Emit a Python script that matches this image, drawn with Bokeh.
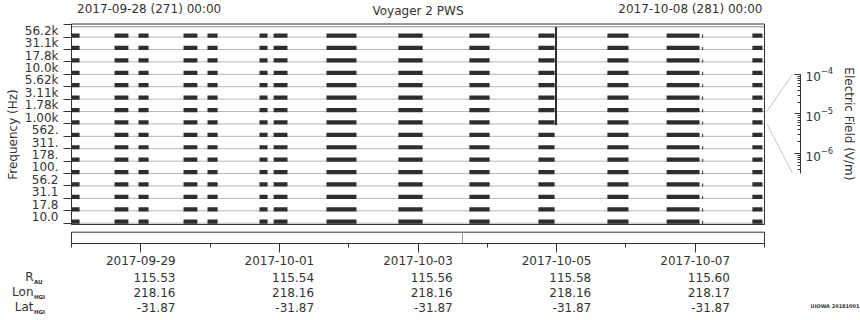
import numpy as np
import pandas as pd
from bokeh.plotting import figure
from bokeh.models import (Range1d, FixedTicker, LogAxis, LogScale, DatetimeTickFormatter,
                          LogTicker)
from bokeh.core.properties import value
from bokeh.embed import file_html
from bokeh.resources import INLINE

# ---------------- data ----------------
t_start = "2017-09-28 00:00"
t_end = "2017-10-08 00:00"
title_left = "2017-09-28 (271) 00:00"
title_right = "2017-10-08 (281) 00:00"
title_center = "Voyager 2 PWS"

channel_labels = ["10.0", "17.8", "31.1", "56.2", "100.", "178.", "311.", "562.",
                  "1.00k", "1.78k", "3.11k", "5.62k", "10.0k", "17.8k", "31.1k", "56.2k"]

# data segments (hours since start), same in every channel
seg_start_h = [0.0, 14.9, 23.2, 38.8, 47.1, 65.1, 70.0, 88.3, 113.2, 137.8, 161.7, 185.6, 206.1, 235.8]
seg_end_h = [2.8, 19.7, 26.7, 43.6, 50.6, 67.9, 74.8, 98.7, 121.6, 144.8, 167.3, 192.9, 217.5, 239.3]
blip_h = [218.4]
spike_h = 167.8
spike_lo_channel = 8
spike_hi_channel = 15
strip_marker_h = 135.4
selected_channel = 8  # 1.00k, linked to the field scale

tick_dates = ["2017-09-29", "2017-10-01", "2017-10-03", "2017-10-05", "2017-10-07"]
minor_dates = ["2017-09-28", "2017-09-30", "2017-10-02", "2017-10-04", "2017-10-06", "2017-10-08"]
r_au = ["115.53", "115.54", "115.56", "115.58", "115.60"]
lon_hgi = ["218.16", "218.16", "218.16", "218.16", "218.17"]
lat_hgi = ["-31.87", "-31.87", "-31.87", "-31.87", "-31.87"]
row_names = ["R", "Lon", "Lat"]
row_subs = ["AU", "HGI", "HGI"]

efield_top = 1e-4
efield_bottom = 10 ** -6.5
efield_top_channel = 12
efield_bottom_channel = 4
efield_label = "Electric Field (V/m)"
credit = "UIOWA 20181001"

# ---------------- layout helpers ----------------
FONT = "DejaVu Sans"
TXT = "#333333"
BAR = "#2e2e2e"
GRID = "#b8b8b8"
W, HGT = 860, 320


def ms(ts):
    return pd.Timestamp(ts).value / 1e6


t0 = ms(t_start)
t1 = ms(t_end)
HOUR = 3600000.0
DAY = 24 * HOUR
PX_DAY = 69.3
X_ORIGIN = 71.0
Y_BASE = 222.7
PX_CH = 12.41


def x_of_px(px):
    return t0 + (px - X_ORIGIN) / PX_DAY * DAY


def y_of_px(py):
    return (Y_BASE - py) / PX_CH


p = figure(width=W, height=HGT, x_axis_type="datetime", output_backend="svg",
           toolbar_location=None, title=None,
           x_range=Range1d(x_of_px(0), x_of_px(W)), y_range=Range1d(y_of_px(HGT), y_of_px(0)),
           min_border=0)
p.outline_line_color = None
p.xgrid.visible = False
p.ygrid.visible = False

nch = len(channel_labels)
frame_top = y_of_px(23.5)
frame_bot = y_of_px(224)

# baselines
p.segment(x0=[t0] * nch, x1=[t1] * nch, y0=list(range(nch)), y1=list(range(nch)),
          line_color=GRID, line_width=1)
# second top line
p.segment(x0=[t0], x1=[t1], y0=[y_of_px(26.3)], y1=[y_of_px(26.3)], line_color="#8a8a8a",
          line_width=1)

# bars
L, R, B, T = [], [], [], []
for i in range(nch):
    for s, e in zip(seg_start_h, seg_end_h):
        L.append(t0 + s * HOUR); R.append(t0 + e * HOUR)
        B.append(i - 0.05); T.append(i + 0.29)
    for b in blip_h:
        L.append(t0 + b * HOUR); R.append(t0 + b * HOUR + 0.35 * HOUR)
        B.append(i - 0.05); T.append(i + 0.2)
p.quad(left=L, right=R, bottom=B, top=T, fill_color=BAR, line_color=None)

# spike
p.segment(x0=[t0 + spike_h * HOUR], x1=[t0 + spike_h * HOUR], y0=[spike_lo_channel - 0.1],
          y1=[spike_hi_channel + 0.8], line_color=BAR, line_width=2)

# main frame
p.quad(left=[t0], right=[t1], bottom=[frame_bot], top=[frame_top], fill_color=None,
       line_color="#333333", line_width=1)

# lower strip
strip_top = y_of_px(231.7)
strip_bot = y_of_px(243)
p.quad(left=[t0], right=[t1], bottom=[strip_bot], top=[strip_top], fill_color=None,
       line_color="#333333", line_width=1)
p.segment(x0=[t0 + strip_marker_h * HOUR], x1=[t0 + strip_marker_h * HOUR],
          y0=[strip_bot], y1=[strip_top], line_color="#999999", line_width=1)

# connectors to field scale
xc0 = x_of_px(766.5)
xc1 = x_of_px(792)
p.segment(x0=[xc0, xc0], x1=[xc1, xc1],
          y0=[selected_channel + 1, selected_channel],
          y1=[efield_top_channel, efield_bottom_channel], line_color="#c8c8c8", line_width=1)

# left axis (channels)
ya = p.yaxis[0]
ya.fixed_location = t0
ya.ticker = FixedTicker(ticks=[i + 0.5 for i in range(nch)], minor_ticks=list(range(nch + 1)))
ya.major_label_overrides = {i + 0.5: lab for i, lab in enumerate(channel_labels)}
ya.major_tick_out = 0
ya.major_tick_in = 0
ya.minor_tick_out = 8
ya.minor_tick_in = 0
ya.minor_tick_line_color = "#333333"
ya.axis_line_color = "#333333"
ya.bounds = (frame_bot, frame_top)
ya.major_label_standoff = 5
ya.major_label_text_font = FONT
ya.major_label_text_font_size = "12px"
ya.major_label_text_color = TXT

# bottom axis (dates)
xa = p.xaxis[0]
xa.fixed_location = strip_bot
xa.ticker = FixedTicker(ticks=[ms(d) for d in tick_dates], minor_ticks=[ms(d) for d in minor_dates])
fmt = DatetimeTickFormatter()
for attr in ["microseconds", "milliseconds", "seconds", "minsec", "minutes", "hourmin",
             "hours", "days", "months", "years"]:
    setattr(fmt, attr, "%Y-%m-%d")
xa.formatter = fmt
xa.bounds = (t0, t1)
xa.major_tick_out = 9
xa.major_tick_in = 0
xa.minor_tick_out = 4
xa.minor_tick_in = 0
xa.axis_line_color = "#333333"
xa.major_tick_line_color = "#333333"
xa.minor_tick_line_color = "#333333"
xa.major_label_standoff = 3
xa.major_label_text_font = FONT
xa.major_label_text_font_size = "12px"
xa.major_label_text_color = TXT

# field scale axis
lo_log, hi_log = np.log10(efield_bottom), np.log10(efield_top)
per_ch = (hi_log - lo_log) / (efield_top_channel - efield_bottom_channel)
r_lo = 10 ** (lo_log - (efield_bottom_channel - y_of_px(HGT)) * per_ch)
r_hi = 10 ** (hi_log + (y_of_px(0) - efield_top_channel) * per_ch)
p.extra_y_ranges = {"ef": Range1d(r_lo, r_hi)}
p.extra_y_scales = {"ef": LogScale()}
ea = LogAxis(y_range_name="ef", ticker=LogTicker(num_minor_ticks=10),
             fixed_location=x_of_px(800))
ea.bounds = (efield_bottom, efield_top)
ea.major_tick_in = 6
ea.major_tick_out = 0
ea.minor_tick_in = 3
ea.minor_tick_out = 0
ea.axis_line_color = "#333333"
ea.major_tick_line_color = "#333333"
ea.minor_tick_line_color = "#333333"
ea.major_label_standoff = 5
ea.major_label_text_font = FONT
ea.major_label_text_font_size = "12px"
ea.major_label_text_color = TXT
p.add_layout(ea, "right")

common = dict(text_font=value(FONT), text_color=TXT, text_baseline=value("middle"))

# axis titles
p.text(x=[x_of_px(12)], y=[y_of_px(134)], text=["Frequency (Hz)"], angle=np.pi / 2,
       text_align=value("center"), text_font_size=value("12px"), **common)
p.text(x=[x_of_px(848)], y=[(efield_top_channel + efield_bottom_channel) / 2], text=[efield_label],
       angle=-np.pi / 2, text_align=value("center"), text_font_size=value("12px"), **common)

# titles
p.text(x=[x_of_px(76.5)], y=[y_of_px(8.3)], text=[title_left], text_align=value("left"),
       text_font_size=value("12px"), **common)
p.text(x=[x_of_px(762)], y=[y_of_px(8.3)], text=[title_right], text_align=value("right"),
       text_font_size=value("12px"), **common)
p.text(x=[(t0 + t1) / 2], y=[y_of_px(10)], text=[title_center], text_align=value("center"),
       text_font_size=value("12px"), **common)

# ephemeris rows
row_px = [276.7, 291.7, 306.7]
row_vals = [r_au, lon_hgi, lat_hgi]
for name, sub, vals, py in zip(row_names, row_subs, row_vals, row_px):
    p.text(x=[x_of_px(33)], y=[y_of_px(py)], text=[name], text_align=value("right"),
           text_font_size=value("12px"), **common)
    p.text(x=[x_of_px(33.5)], y=[y_of_px(py + 4.5)], text=[sub], text_align=value("left"),
           text_font_size=value("5.5px"), text_font_style=value("bold"), **common)
    p.text(x=[ms(d) + 0.5 * DAY for d in tick_dates], y=[y_of_px(py)] * len(vals), text=vals,
           text_align=value("right"), text_font_size=value("12px"), **common)

p.text(x=[x_of_px(859)], y=[y_of_px(305.3)], text=[credit], text_align=value("right"),
       text_font_size=value("5px"), text_font_style=value("bold"), **common)

open("out.html", "w").write(file_html(p, INLINE))
